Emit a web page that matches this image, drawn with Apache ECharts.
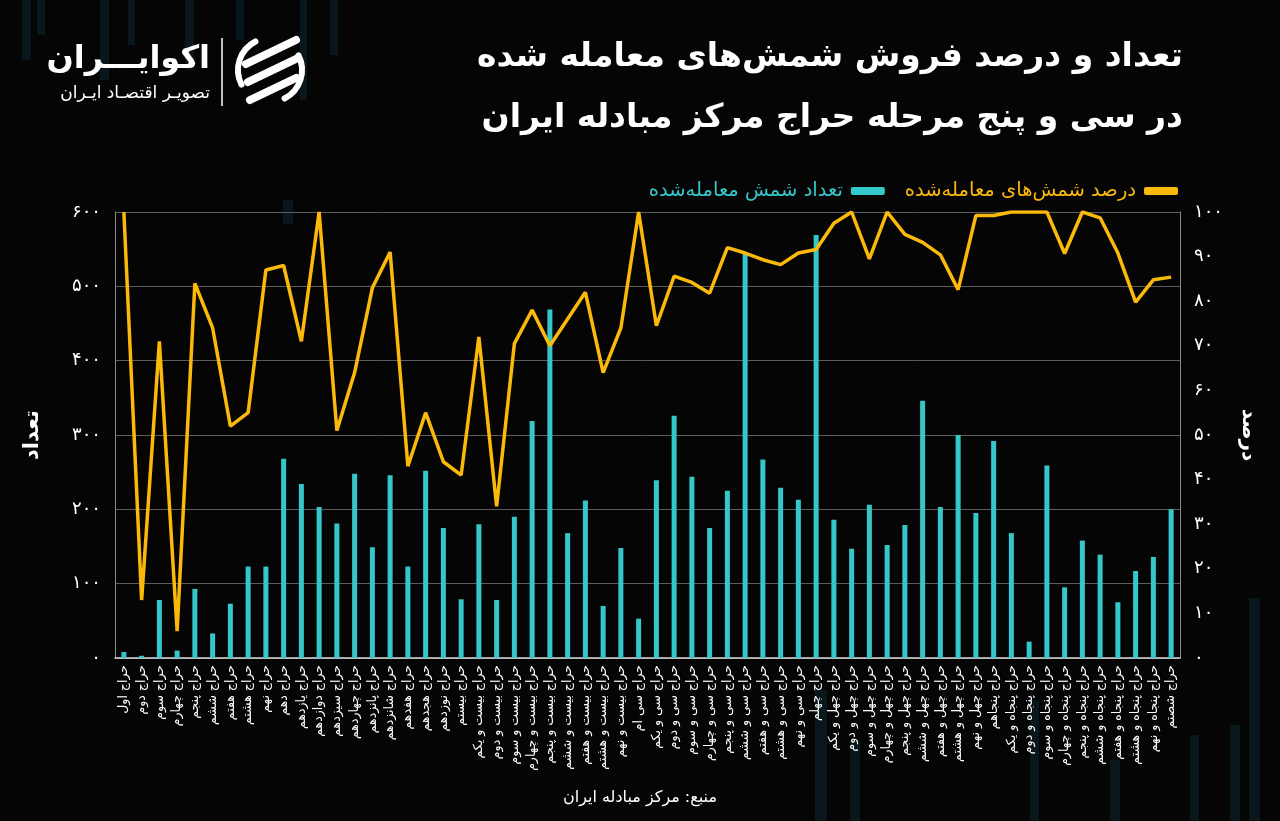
<!DOCTYPE html>
<html>
<head>
<meta charset="utf-8">
<script src="https://cdn.jsdelivr.net/npm/echarts@6/dist/echarts.min.js"></script>
<style>
  html, body { margin: 0; padding: 0; background: #050505; }
  #chart { width: 1280px; height: 821px; }
</style>
</head>
<body>
<div id="chart"></div>
<script>
const FONT = "'DejaVu Sans', sans-serif"

const rounds = [
  'حراج اول', 'حراج دوم', 'حراج سوم', 'حراج چهارم', 'حراج پنجم',
  'حراج ششم', 'حراج هفتم', 'حراج هشتم', 'حراج نهم', 'حراج دهم',
  'حراج یازدهم', 'حراج دوازدهم', 'حراج سیزدهم', 'حراج چهاردهم', 'حراج پانزدهم',
  'حراج شانزدهم', 'حراج هفدهم', 'حراج هجدهم', 'حراج نوزدهم', 'حراج بیستم',
  'حراج بیست و یکم', 'حراج بیست و دوم', 'حراج بیست و سوم', 'حراج بیست و چهارم', 'حراج بیست و پنجم',
  'حراج بیست و ششم', 'حراج بیست و هفتم', 'حراج بیست و هشتم', 'حراج بیست و نهم', 'حراج سی ام',
  'حراج سی و یکم', 'حراج سی و دوم', 'حراج سی و سوم', 'حراج سی و چهارم', 'حراج سی و پنجم',
  'حراج سی و ششم', 'حراج سی و هفتم', 'حراج سی و هشتم', 'حراج سی و نهم', 'حراج چهلم',
  'حراج چهل و یکم', 'حراج چهل و دوم', 'حراج چهل و سوم', 'حراج چهل و چهارم', 'حراج چهل و پنجم',
  'حراج چهل و ششم', 'حراج چهل و هفتم', 'حراج چهل و هشتم', 'حراج چهل و نهم', 'حراج پنجاهم',
  'حراج پنجاه و یکم', 'حراج پنجاه و دوم', 'حراج پنجاه و سوم', 'حراج پنجاه و چهارم', 'حراج پنجاه و پنجم',
  'حراج پنجاه و ششم', 'حراج پنجاه و هفتم', 'حراج پنجاه و هشتم', 'حراج پنجاه و نهم', 'حراج شصتم',
]

// تعداد شمش معامله‌شده
const soldCount = [
  8, 3, 78, 10, 93, 33, 73, 123, 123, 268,
  234, 203, 181, 248, 149, 246, 123, 252, 175, 79,
  180, 78, 190, 319, 469, 168, 212, 70, 148, 53,
  239, 326, 244, 175, 225, 544, 267, 229, 213, 569,
  186, 147, 206, 152, 179, 346, 203, 300, 195, 292,
  168, 22, 259, 95, 158, 139, 75, 117, 136, 200,
]

// درصد شمش‌های معامله‌شده
const soldPercent = [
  100, 13, 71, 6, 84, 74, 52, 55, 87, 88,
  71, 100, 51, 64, 83, 91, 43, 55, 44, 41,
  72, 34, 70.5, 78, 70, 76, 82, 64, 74, 100,
  74.5, 85.6, 84.2, 81.8, 92, 90.8, 89.3, 88.2, 90.8, 91.6,
  97.5, 100, 89.5, 100, 95, 93.2, 90.4, 82.6, 99.2, 99.2,
  100, 100, 100, 90.7, 100, 98.7, 90.8, 79.8, 84.8, 85.4,
]

const titleLines = [
  'تعداد و درصد فروش شمش‌های معامله شده',
  'در سی و پنج مرحله حراج مرکز مبادله ایران',
]
const sourceText = 'منبع: مرکز مبادله ایران'
const countName = 'تعداد شمش معامله‌شده'
const percentName = 'درصد شمش‌های معامله‌شده'

// faint background stripes of the template: [x, y, w, h]
const stripes = [
  [22, 0, 9, 60], [37, 0, 8, 35], [100, 0, 9, 80], [128, 0, 7, 45],
  [185, 0, 9, 70], [236, 0, 8, 40], [300, 0, 7, 100], [330, 0, 8, 55],
  [283, 200, 10, 24], [815, 690, 12, 131], [850, 740, 10, 81],
  [1030, 700, 9, 121], [1110, 760, 10, 61], [1190, 735, 9, 86],
  [1230, 725, 10, 96], [1249, 598, 11, 223],
]

const teal = '#35c8ca'
const amber = '#fbb90b'

const fa = (v) => String(v).replace(/\d/g, (d) => '۰۱۲۳۴۵۶۷۸۹'[d])

const chart = echarts.init(document.getElementById('chart'))

chart.setOption({
  backgroundColor: '#050505',
  textStyle: { fontFamily: FONT },
  grid: { left: 115, right: 100, top: 212, bottom: 163 },
  legend: {
    top: 176,
    right: 97,
    align: 'right',
    icon: 'roundRect',
    itemWidth: 34,
    itemHeight: 8,
    itemGap: 20,
    data: [
      { name: countName, textStyle: { color: teal } },
      { name: percentName, textStyle: { color: amber } },
    ],
    textStyle: { fontSize: 19.5, fontFamily: FONT, padding: [0, 3, 0, 0] },
  },
  xAxis: {
    type: 'category',
    data: rounds,
    axisTick: { show: false },
    axisLine: { lineStyle: { color: '#d8d8d8', width: 1.5 } },
    axisLabel: {
      interval: 0,
      rotate: 90,
      color: '#ffffff',
      fontSize: 12.5,
      margin: 7,
      fontFamily: FONT,
    },
  },
  yAxis: [
    {
      type: 'value',
      min: 0,
      max: 600,
      interval: 100,
      name: 'تعداد',
      nameLocation: 'middle',
      nameGap: 72,
      nameRotate: 90,
      nameTextStyle: { color: '#ffffff', fontSize: 21, fontWeight: 'bold', fontFamily: FONT },
      axisLine: { show: true, lineStyle: { color: '#8a8a8a', width: 1 } },
      axisTick: { show: false },
      axisLabel: { color: '#ffffff', fontSize: 18, margin: 14, formatter: fa },
      splitLine: { lineStyle: { color: '#5c5c5c', width: 1 } },
    },
    {
      type: 'value',
      min: 0,
      max: 100,
      interval: 10,
      name: 'درصد',
      nameLocation: 'middle',
      nameGap: 58,
      nameRotate: -90,
      nameTextStyle: { color: '#ffffff', fontSize: 20, fontWeight: 'bold', fontFamily: FONT },
      axisLine: { show: true, lineStyle: { color: '#8a8a8a', width: 1 } },
      axisTick: { show: false },
      axisLabel: { color: '#ffffff', fontSize: 18, margin: 14, formatter: fa },
      splitLine: { show: false },
    },
  ],
  series: [
    {
      name: countName,
      type: 'bar',
      data: soldCount,
      barWidth: 5,
      itemStyle: { color: teal },
      z: 2,
    },
    {
      name: percentName,
      type: 'line',
      yAxisIndex: 1,
      data: soldPercent,
      showSymbol: false,
      symbol: 'none',
      lineStyle: { color: amber, width: 3.5 },
      itemStyle: { color: amber },
      z: 3,
    },
  ],
  graphic: [
    ...stripes.map(([x, y, w, h]) => ({
      type: 'rect',
      z: -10,
      silent: true,
      shape: { x, y, width: w, height: h },
      style: { fill: 'rgba(16, 52, 66, 0.38)' },
    })),
    {
      type: 'text',
      right: 97,
      top: 41,
      style: {
        text: titleLines[0],
        fill: '#ffffff',
        font: `bold 33px ${FONT}`,
        textAlign: 'right',
      },
    },
    {
      type: 'text',
      right: 97,
      top: 102,
      style: {
        text: titleLines[1],
        fill: '#ffffff',
        font: `bold 33px ${FONT}`,
        textAlign: 'right',
      },
    },
    {
      type: 'text',
      left: 'center',
      top: 790,
      style: { text: sourceText, fill: '#ffffff', font: `16px ${FONT}` },
    },
    // logo
    {
      type: 'text',
      right: 1280 - 210,
      top: 44,
      style: { text: 'اکوایـــران', fill: '#ffffff', font: `bold 32px ${FONT}` },
    },
    {
      type: 'text',
      right: 1280 - 210,
      top: 85,
      style: { text: 'تصویـر اقتصـاد ایـران', fill: '#ffffff', font: `17px ${FONT}` },
    },
    {
      type: 'line',
      shape: { x1: 222, y1: 38, x2: 222, y2: 106 },
      style: { stroke: '#ffffff', lineWidth: 1.5 },
    },
    {
      type: 'group',
      x: 270,
      y: 70,
      children: [
        {
          type: 'arc',
          shape: { cx: 0, cy: 0, r: 32, startAngle: Math.PI * 0.85, endAngle: Math.PI * 1.35 },
          style: { stroke: '#ffffff', lineWidth: 6, fill: null, lineCap: 'round' },
        },
        {
          type: 'arc',
          shape: { cx: 0, cy: 0, r: 32, startAngle: Math.PI * 1.85, endAngle: Math.PI * 0.35 },
          style: { stroke: '#ffffff', lineWidth: 6, fill: null, lineCap: 'round' },
        },
        {
          type: 'line',
          shape: { x1: -24, y1: -6, x2: 26, y2: -30 },
          style: { stroke: '#ffffff', lineWidth: 8, lineCap: 'round' },
        },
        {
          type: 'line',
          shape: { x1: -22, y1: 12, x2: 28, y2: -12 },
          style: { stroke: '#ffffff', lineWidth: 8, lineCap: 'round' },
        },
        {
          type: 'line',
          shape: { x1: -20, y1: 30, x2: 26, y2: 8 },
          style: { stroke: '#ffffff', lineWidth: 8, lineCap: 'round' },
        },
      ],
    },
  ],
})
</script>
</body>
</html>
